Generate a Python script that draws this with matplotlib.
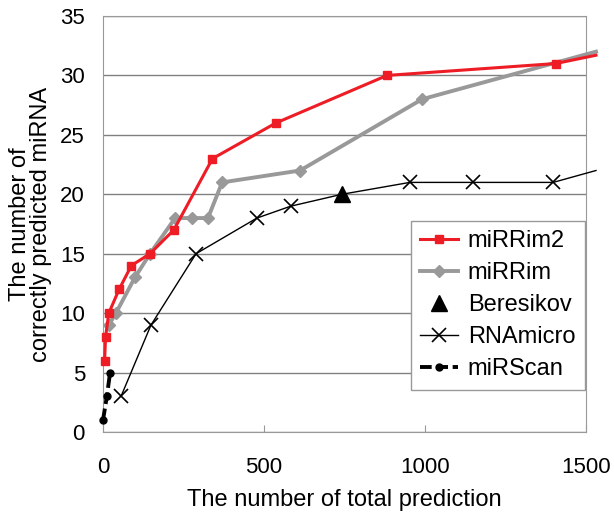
import matplotlib.pyplot as plt

plt.rcParams['font.family'] = ['Liberation Sans', 'DejaVu Sans']

# miRRim2
x_mirrim2 = [5, 8, 18, 50, 88, 146, 220, 340, 537, 882, 1406, 1531]
y_mirrim2 = [6, 8, 10, 12, 14, 15, 17, 23, 26, 30, 31, 31.7]
# miRRim
x_mirrim = [18, 40, 99, 146, 224, 276, 326, 370, 612, 991, 1531]
y_mirrim = [9, 10, 13, 15, 18, 18, 18, 21, 22, 28, 32]
# Beresikov
x_beres = [742]
y_beres = [20]
# RNAmicro
x_rnamicro = [56, 149, 289, 478, 583, 742, 953, 1149, 1398, 1531]
y_rnamicro = [3, 9, 15, 18, 19, 20, 21, 21, 21, 22]
# miRScan
x_mirscan = [0, 12, 22]
y_mirscan = [1, 3, 5]

fig = plt.figure(figsize=(6.14, 5.13), dpi=100)
ax = fig.add_axes([103 / 614, 1 - 432 / 513, 483 / 614, 416 / 513])

ax.plot(x_mirrim2, y_mirrim2, color='#ee1c25', lw=2.2, marker='s', ms=6,
        markevery=list(range(len(x_mirrim2) - 1)), clip_on=False, zorder=4, label='miRRim2')
ax.plot(x_mirrim, y_mirrim, color='#999999', lw=2.8, marker='D', ms=6,
        markevery=list(range(len(x_mirrim) - 1)), clip_on=False, zorder=3, label='miRRim')
ax.plot(x_beres, y_beres, color='black', lw=0, marker='^', ms=12, zorder=6, label='Beresikov')
ax.plot(x_rnamicro, y_rnamicro, color='black', lw=1, marker='x', ms=10, mew=1.2,
        markevery=[0, 1, 2, 3, 4, 6, 7, 8], clip_on=False, zorder=5, label='RNAmicro')
ax.plot(x_mirscan, y_mirscan, color='black', lw=2.8, ls=(0, (3, 1.2)), marker='o', ms=5,
        clip_on=False, zorder=5, label='miRScan')

ax.set_xlim(0, 1500)
ax.set_ylim(0, 35)
ax.set_xticks([0, 500, 1000, 1500])
ax.set_yticks(range(0, 36, 5))
ax.grid(axis='y', color='#808080', lw=1)
ax.set_axisbelow(True)
for s in ax.spines.values():
    s.set_color('#999999')
ax.tick_params(axis='x', direction='in', length=5, color='#999999', labelsize=16, pad=18)
ax.tick_params(axis='y', length=0, labelsize=16, pad=13)

ax.set_xlabel('The number of total prediction', fontsize=17, labelpad=8)
ax.set_ylabel('The number of\ncorrectly predicted miRNA', fontsize=17, labelpad=6, linespacing=0.9)

leg = ax.legend(loc='upper left', bbox_to_anchor=((411 - 103) / 483, (432 - 221) / 416),
                fontsize=17, frameon=True, fancybox=False, edgecolor='#999999',
                handlelength=1.6, handletextpad=0.4, labelspacing=0.42, borderpad=0.4,
                framealpha=1, borderaxespad=0)
leg.get_frame().set_linewidth(1)

fig.savefig('out.png', dpi=100)
